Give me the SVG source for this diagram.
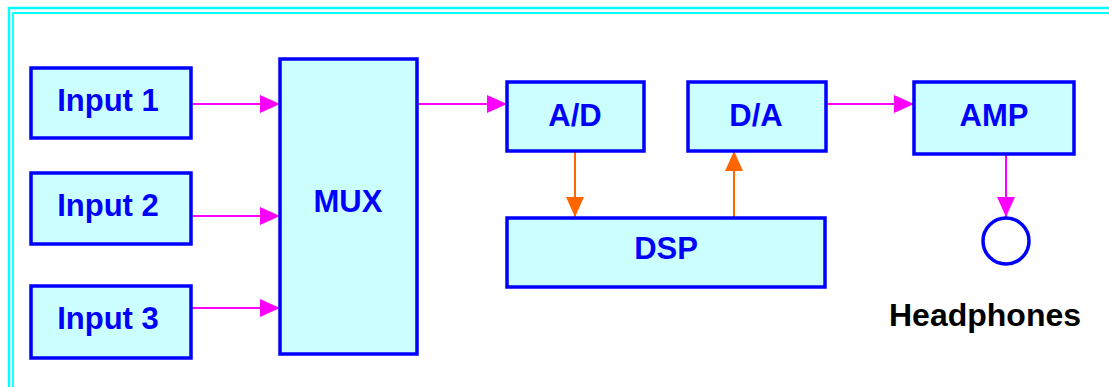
<svg xmlns="http://www.w3.org/2000/svg" width="1109" height="387" viewBox="0 0 1109 387">
<style>
.box{fill:#ccffff;stroke:#0000ff;stroke-width:3.5}
.lbl{font-family:"Liberation Sans",Arial,sans-serif;font-weight:bold;font-size:31px;fill:#0000ff;text-anchor:middle}
.mag{stroke:#ff00ff;stroke-width:2;fill:none}
.org{stroke:#ff6600;stroke-width:2;fill:none}
.frame{stroke:#00ffff;fill:none}
</style>
<defs>
<marker id="am" viewBox="0 0 20 18" refX="20" refY="9" markerWidth="20" markerHeight="18" markerUnits="userSpaceOnUse" orient="auto"><path d="M0,0 L20,9 L0,18 Z" fill="#ff00ff"/></marker>
<marker id="ao" viewBox="0 0 20 18" refX="20" refY="9" markerWidth="20" markerHeight="18" markerUnits="userSpaceOnUse" orient="auto"><path d="M0,0 L20,9 L0,18 Z" fill="#ff6600"/></marker>
</defs>
<rect width="1109" height="387" fill="#ffffff"/>
<g id="frame">
<path class="frame" d="M9,387 V8 H1109" stroke-width="2.5"/>
<path class="frame" d="M13,387 V13 H1109" stroke-width="1.8"/>
</g>
<g id="connectors">
<line class="mag" x1="191" y1="104" x2="280" y2="104" marker-end="url(#am)"/>
<line class="mag" x1="191" y1="216" x2="280" y2="216" marker-end="url(#am)"/>
<line class="mag" x1="191" y1="308" x2="280" y2="308" marker-end="url(#am)"/>
<line class="mag" x1="417" y1="104" x2="507" y2="104" marker-end="url(#am)"/>
<line class="mag" x1="826" y1="104" x2="914" y2="104" marker-end="url(#am)"/>
<line class="mag" x1="1006" y1="155" x2="1006" y2="217" marker-end="url(#am)"/>
<line class="org" x1="575" y1="151" x2="575" y2="217" marker-end="url(#ao)"/>
<line class="org" x1="734" y1="217" x2="734" y2="151" marker-end="url(#ao)"/>
</g>
<g id="input1"><rect class="box" x="31" y="68" width="160" height="70"/><text class="lbl" x="108" y="111">Input 1</text></g>
<g id="input2"><rect class="box" x="31" y="173" width="160" height="71"/><text class="lbl" x="108" y="216">Input 2</text></g>
<g id="input3"><rect class="box" x="31" y="286" width="160" height="72"/><text class="lbl" x="108" y="329">Input 3</text></g>
<g id="mux"><rect class="box" x="280" y="59" width="137" height="295"/><text class="lbl" x="348" y="212">MUX</text></g>
<g id="ad"><rect class="box" x="507" y="82" width="137" height="69"/><text class="lbl" x="575" y="126">A/D</text></g>
<g id="da"><rect class="box" x="688" y="82" width="138" height="69"/><text class="lbl" x="756" y="126">D/A</text></g>
<g id="dsp"><rect class="box" x="507" y="218" width="318" height="69"/><text class="lbl" x="666" y="259">DSP</text></g>
<g id="amp"><rect class="box" x="914" y="82" width="160" height="72"/><text class="lbl" x="994" y="126">AMP</text></g>
<g id="headphones"><circle cx="1006" cy="241" r="23" fill="none" stroke="#0000ff" stroke-width="3.5"/><text x="985" y="326" style="font-family:'Liberation Sans',Arial,sans-serif;font-weight:bold;font-size:32px;fill:#000000;text-anchor:middle">Headphones</text></g>
</svg>
